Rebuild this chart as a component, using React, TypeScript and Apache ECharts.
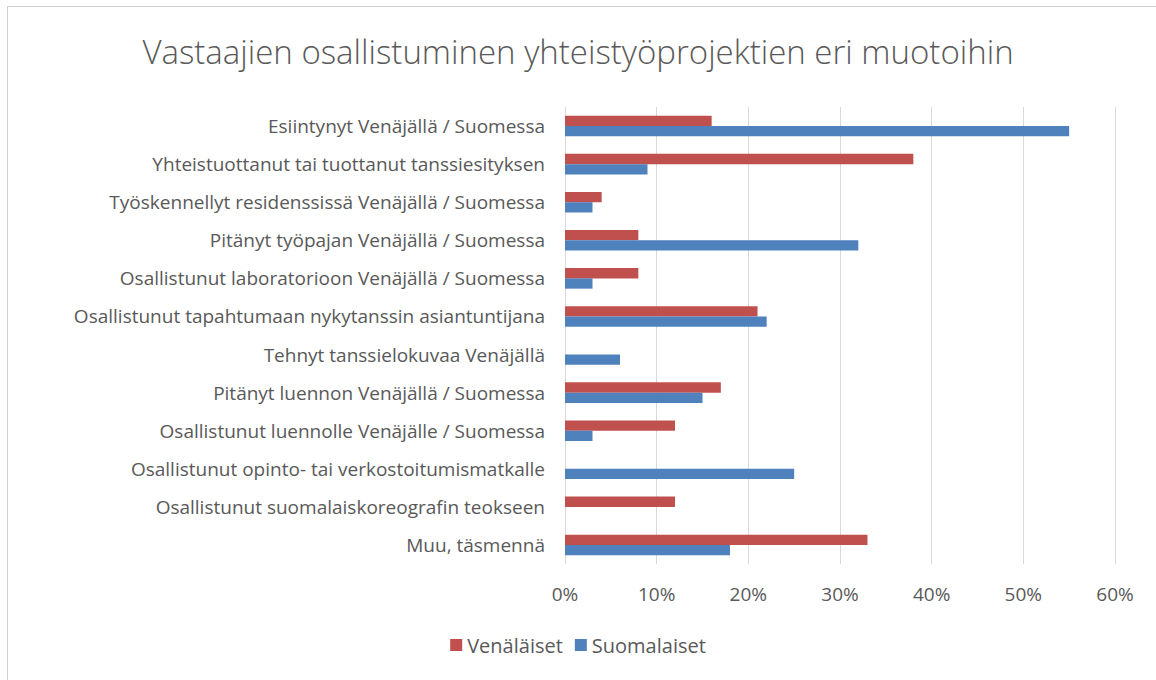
import React, { useEffect, useRef } from "react";
import * as echarts from "echarts";

const categories = [
  "Esiintynyt Venäjällä / Suomessa",
  "Yhteistuottanut tai tuottanut tanssiesityksen",
  "Työskennellyt residenssissä Venäjällä / Suomessa",
  "Pitänyt työpajan Venäjällä / Suomessa",
  "Osallistunut laboratorioon Venäjällä / Suomessa",
  "Osallistunut tapahtumaan nykytanssin asiantuntijana",
  "Tehnyt tanssielokuvaa Venäjällä",
  "Pitänyt luennon Venäjällä / Suomessa",
  "Osallistunut luennolle Venäjälle / Suomessa",
  "Osallistunut opinto- tai verkostoitumismatkalle",
  "Osallistunut suomalaiskoreografin teokseen",
  "Muu, täsmennä",
];
const venalaiset = [16, 38, 4, 8, 8, 21, 0, 17, 12, 0, 12, 33];
const suomalaiset = [55, 9, 3, 32, 3, 22, 6, 15, 3, 25, 0, 18];
const seriesNames = ["Venäläiset", "Suomalaiset"];
const titleText = "Vastaajien osallistuminen yhteistyöprojektien eri muotoihin";

const FONT = "'Open Sans', sans-serif";
const TEXT = "#595959";

export default function App() {
  const ref = useRef<HTMLDivElement>(null);
  useEffect(() => {
    if (!ref.current) return;
    const chart = echarts.init(ref.current, null, { renderer: "svg" });
    chart.setOption({
      animation: false,
      backgroundColor: "#ffffff",
      title: {
        text: titleText,
        left: "center",
        top: 30,
        textStyle: { fontFamily: FONT, fontSize: 33, fontWeight: 300, color: TEXT },
      },
      legend: {
        data: seriesNames,
        bottom: 20,
        left: "center",
        itemWidth: 12,
        itemHeight: 12,
        itemGap: 12,
        icon: "rect",
        textStyle: { fontFamily: FONT, fontSize: 20, color: TEXT },
      },
      grid: { left: 565, right: 41, top: 107, bottom: 116 },
      xAxis: {
        type: "value",
        min: 0,
        max: 60,
        interval: 10,
        axisLabel: {
          formatter: "{value}%",
          fontFamily: FONT,
          fontSize: 19,
          color: TEXT,
          margin: 20,
        },
        splitLine: { show: true, lineStyle: { color: "#D9D9D9" } },
        axisLine: { show: false },
        axisTick: { show: false },
      },
      yAxis: {
        type: "category",
        data: categories,
        inverse: true,
        axisLabel: { fontFamily: FONT, fontSize: 19, color: TEXT, margin: 20 },
        axisLine: { show: true, lineStyle: { color: "#D9D9D9" } },
        axisTick: { show: false },
      },
      series: [
        {
          name: seriesNames[0],
          type: "bar",
          data: venalaiset,
          itemStyle: { color: "#C0504D" },
          barGap: "0%",
          barCategoryGap: "46%",
        },
        {
          name: seriesNames[1],
          type: "bar",
          data: suomalaiset,
          itemStyle: { color: "#4F81BD" },
          barGap: "0%",
          barCategoryGap: "46%",
        },
      ],
      graphic: [
        { type: "line", shape: { x1: 7, y1: 6.5, x2: 1156, y2: 6.5 }, style: { stroke: "#D0D0D0", lineWidth: 1 } },
        { type: "line", shape: { x1: 7.5, y1: 6, x2: 7.5, y2: 680 }, style: { stroke: "#D0D0D0", lineWidth: 1 } },
      ],
    });
    return () => chart.dispose();
  }, []);
  return <div ref={ref} style={{ width: 1156, height: 680, position: "absolute", left: 0, top: 0 }} />;
}
